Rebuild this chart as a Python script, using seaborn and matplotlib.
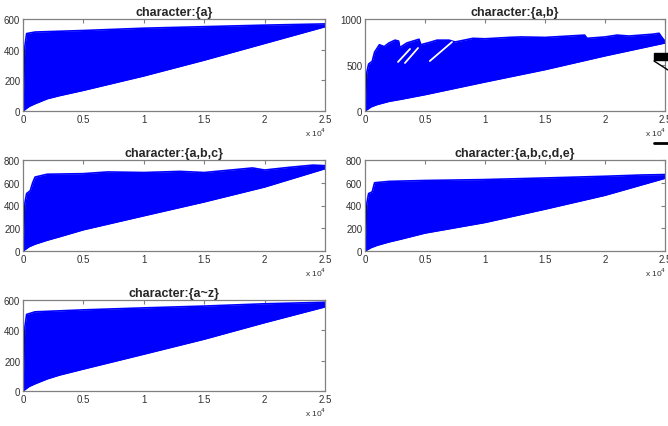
import numpy as np
import pandas as pd
import matplotlib
matplotlib.use("Agg")
import matplotlib.pyplot as plt
import seaborn as sns
from matplotlib.lines import Line2D
from matplotlib.patches import Rectangle

sns.set_style("white")
plt.rcParams['font.family'] = ['Liberation Sans', 'DejaVu Sans']

titles = ["character:{a}", "character:{a,b}", "character:{a,b,c}",
          "character:{a,b,c,d,e}", "character:{a~z}"]

# upper envelope (x, value)
up_x = {
    0: [0, 150, 300, 1000, 5000, 10000, 15000, 20000, 25000],
    1: [0, 150, 300, 600, 800, 1200, 1600, 2000, 2500, 2800, 2900, 3500, 4500, 4650, 5500,
        6000, 7000, 7500, 9000, 10000, 12000, 13000, 15000, 17000, 18300, 18500, 20000,
        21000, 22000, 24000, 24500, 24800, 25000],
    2: [0, 150, 300, 600, 800, 1000, 2000, 5000, 7000, 10000, 13000, 15000, 17000, 19000,
        20000, 22000, 24000, 25000],
    3: [0, 150, 300, 600, 800, 2000, 5000, 10000, 15000, 20000, 23000, 25000],
    4: [0, 150, 300, 1000, 5000, 10000, 15000, 20000, 25000],
}
up_y = {
    0: [0, 420, 505, 515, 525, 540, 550, 560, 568],
    1: [0, 420, 510, 540, 640, 720, 700, 740, 770, 760, 690, 740, 780, 720, 750,
        770, 770, 750, 790, 785, 800, 805, 800, 815, 825, 790, 805, 825, 815, 835, 845, 790, 760],
    2: [0, 420, 505, 530, 600, 650, 675, 680, 695, 690, 700, 690, 710, 730, 712, 735, 755, 750],
    3: [0, 420, 505, 520, 600, 612, 620, 628, 642, 657, 668, 672],
    4: [0, 420, 505, 522, 535, 548, 560, 575, 585],
}
# lower envelope (x, value)
lo_x = [0, 500, 1000, 2000, 3000, 5000, 10000, 15000, 20000, 25000]
lo_y = {
    0: [0, 30, 48, 80, 100, 135, 229, 332, 441, 550],
    1: [0, 45, 70, 105, 128, 178, 316, 450, 600, 740],
    2: [0, 38, 61, 95, 125, 187, 310, 432, 563, 724],
    3: [0, 30, 50, 80, 105, 158, 251, 368, 490, 640],
    4: [0, 30, 48, 80, 105, 145, 243, 342, 451, 555],
}
y_limits = {0: 600, 1: 1000, 2: 800, 3: 800, 4: 600}
y_steps = {0: 200, 1: 500, 2: 200, 3: 200, 4: 200}

# white gaps in {a,b}
gap_x = [[2750, 3750], [3330, 4420], [5400, 7250]]
gap_y = [[533, 674], [522, 685], [543, 750]]

W, H = 668, 427
fig = plt.figure(figsize=(W / 100, H / 100), dpi=100)

boxes = [(23, 20, 302, 92), (365, 20, 300, 92), (23, 161, 302, 91),
         (365, 161, 300, 91), (23, 301, 302, 91)]

blue = "#0000ff"
for i, (l, t, w, h) in enumerate(boxes):
    ax = fig.add_axes([l / W, 1 - (t + h) / H, w / W, h / H])
    xs = np.union1d(up_x[i], lo_x)
    u = np.interp(xs, up_x[i], up_y[i])
    lo = np.interp(xs, lo_x, lo_y[i])
    lo = np.minimum(lo, u)
    ax.fill_between(xs, lo, u, color=blue, lw=0)
    sns.lineplot(x=up_x[i], y=up_y[i], ax=ax, color=blue, lw=1.2, sort=False)
    sns.lineplot(x=lo_x, y=lo_y[i], ax=ax, color=blue, lw=1.2, sort=False)
    sns.lineplot(x=[0, 120], y=[0, 400], ax=ax, color="#000060", lw=1.0, sort=False)
    if i == 1:
        for gx, gy in zip(gap_x, gap_y):
            sns.lineplot(x=gx, y=gy, ax=ax, color="white", lw=1.3, sort=False)
    ax.set_xlim(0, 25000)
    ax.set_ylim(0, y_limits[i])
    ax.set_xticks(np.arange(0, 25001, 5000))
    ax.set_xticklabels(["0", "0.5", "1", "1.5", "2", "2.5"])
    ax.set_yticks(np.arange(0, y_limits[i] + 1, y_steps[i]))
    ax.tick_params(direction="in", length=3, width=0.8, colors="#808080",
                   labelcolor="#303030", labelsize=7, pad=2, top=True, right=True)
    for s in ax.spines.values():
        s.set_color("#808080")
        s.set_linewidth(0.9)
    ax.set_title(titles[i], fontsize=9, fontweight="bold", pad=3)
    ax.text(1.005, -0.23, r"x 10$^4$", transform=ax.transAxes, ha="right",
            va="center", fontsize=6, color="#303030")
    ax.set_xlabel("")
    ax.set_ylabel("")

# cropped artefacts at the right edge
fig.patches.append(Rectangle((654 / W, 1 - 61 / H), 14 / W, 7 / H, transform=fig.transFigure,
                             color="black", zorder=10))
fig.lines.append(Line2D([654 / W, 668 / W], [1 - 62 / H, 1 - 71 / H], transform=fig.transFigure,
                        color="black", lw=1.0))
fig.lines.append(Line2D([654 / W, 668 / W], [1 - 144 / H, 1 - 144 / H], transform=fig.transFigure,
                        color="black", lw=2.0))

fig.savefig("out.png", dpi=100)
